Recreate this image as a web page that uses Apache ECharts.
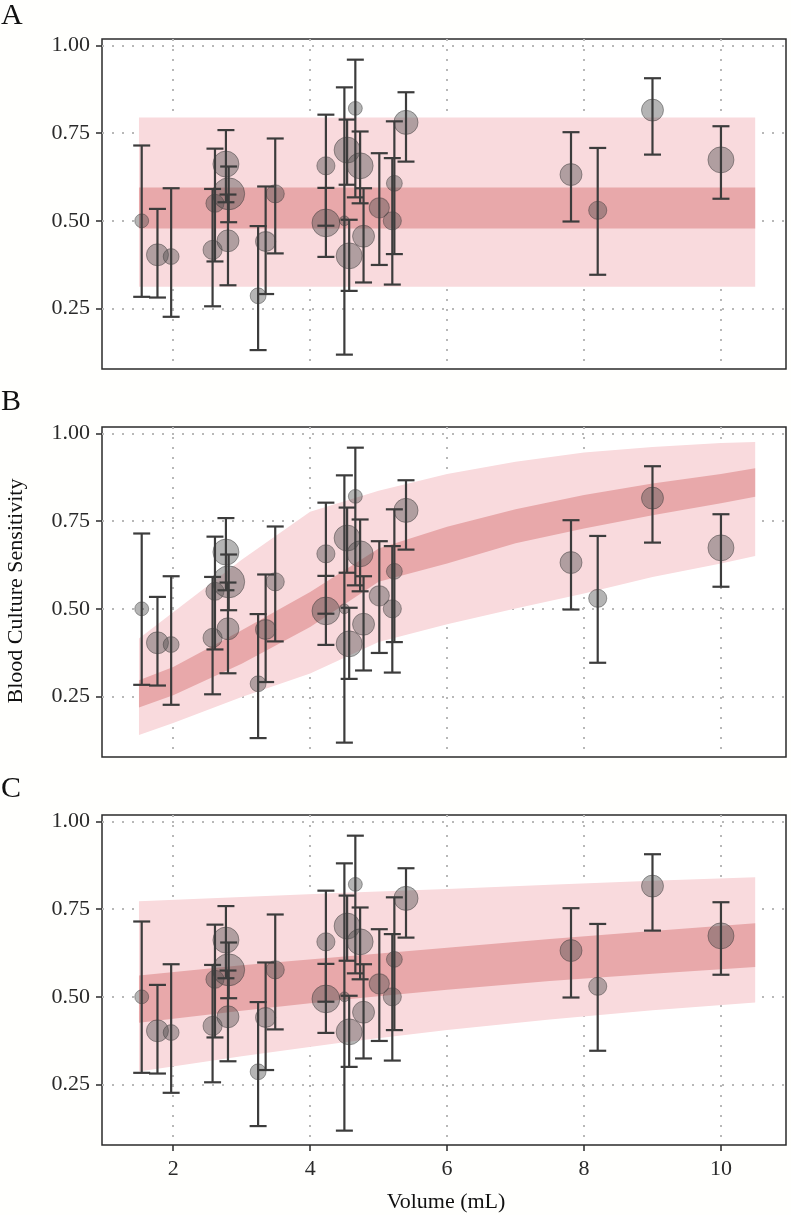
<!DOCTYPE html>
<html><head><meta charset="utf-8">
<script src="https://cdn.jsdelivr.net/npm/echarts@6/dist/echarts.min.js"></script>
<style>html,body{margin:0;padding:0;background:#fffffd;} #c{width:791px;height:1215px;}</style>
</head><body><div id="c"></div>
<script>
// ---- data ----
const volume      = [1.54,1.77,1.97,2.575,2.61,2.77,2.81,2.80,3.24,3.35,3.49,4.23,4.23,4.50,4.54,4.57,4.66,4.73,4.78,5.01,5.20,5.23,5.40,7.81,8.20,9.00,10.0];
const sensitivity = [0.500,0.403,0.398,0.417,0.550,0.662,0.577,0.443,0.286,0.441,0.577,0.657,0.494,0.500,0.702,0.400,0.821,0.657,0.456,0.537,0.500,0.607,0.781,0.632,0.530,0.816,0.674];
const ciLow       = [0.283,0.281,0.226,0.256,0.384,0.553,0.496,0.316,0.131,0.291,0.407,0.486,0.397,0.118,0.603,0.300,0.567,0.550,0.324,0.374,0.318,0.405,0.669,0.498,0.346,0.689,0.563];
const ciHigh      = [0.715,0.534,0.593,0.591,0.706,0.759,0.655,0.575,0.485,0.598,0.735,0.803,0.594,0.881,0.789,0.503,0.960,0.755,0.593,0.693,0.679,0.784,0.867,0.753,0.708,0.907,0.770];
const sampleSize  = [10,25,13,19,17,35,53,25,13,21,17,17,40,5,35,35,10,35,25,21,17,13,30,25,17,25,35];

// Panel A: constant model
const bandXA      = [1.5, 10.5];
const aOuterLow   = [0.312, 0.312];
const aOuterHigh  = [0.795, 0.795];
const aInnerLow   = [0.478, 0.478];
const aInnerHigh  = [0.595, 0.595];

// Panel B: nonlinear model
const bandXB      = [1.5, 2, 3, 4, 5, 6, 7, 8, 9, 10, 10.5];
const bOuterLow   = [0.140,0.174,0.248,0.315,0.405,0.456,0.501,0.544,0.591,0.629,0.651];
const bOuterHigh  = [0.415,0.490,0.640,0.777,0.837,0.885,0.920,0.946,0.962,0.973,0.976];
const bInnerLow   = [0.218,0.253,0.343,0.448,0.577,0.629,0.687,0.729,0.767,0.801,0.820];
const bInnerHigh  = [0.296,0.334,0.439,0.548,0.672,0.734,0.784,0.825,0.858,0.885,0.901];

// Panel C: linear model
const bandXC      = [1.5, 3, 4.5, 6, 7.5, 9, 10.5];
const cOuterLow   = [0.287,0.330,0.370,0.405,0.435,0.462,0.484];
const cOuterHigh  = [0.773,0.785,0.797,0.808,0.820,0.831,0.841];
const cInnerLow   = [0.426,0.460,0.492,0.520,0.545,0.566,0.585];
const cInnerHigh  = [0.561,0.590,0.615,0.640,0.665,0.688,0.710];

const xTicks = [2, 4, 6, 8, 10];
const yTicks = [0.25, 0.50, 0.75, 1.00];
const panelLabels = ['A', 'B', 'C'];

// ---- styles ----
const FONT = '"Liberation Serif", "DejaVu Serif", serif';
const OUTER = '#f9dadd';
const INNER = '#e8a8aa';
const BAR = '#3c3c3c';
const gridTops = [39, 427, 815];
const GRID_H = 330;

const chart = echarts.init(document.getElementById('c'), null, {renderer: 'canvas'});

function band(gi, xs, lo, hi, color, z) {
  return {
    type: 'custom', xAxisIndex: gi, yAxisIndex: gi, z: z, silent: true,
    data: [[xs[0], lo[0]]],
    renderItem: function (params, api) {
      const pts = [];
      for (let i = 0; i < xs.length; i++) pts.push(api.coord([xs[i], hi[i]]));
      for (let i = xs.length - 1; i >= 0; i--) pts.push(api.coord([xs[i], lo[i]]));
      return {type: 'polygon', shape: {points: pts}, style: {fill: color}};
    }
  };
}

const pointData = volume.map((v, i) => [v, sensitivity[i], sampleSize[i]]);
const barData = volume.map((v, i) => [v, ciLow[i], ciHigh[i]]);

function points(gi) {
  return {
    type: 'scatter', xAxisIndex: gi, yAxisIndex: gi, z: 5, silent: true,
    data: pointData,
    symbolSize: d => 4.4 * Math.sqrt(d[2]),
    itemStyle: {color: 'rgba(75,75,75,0.52)', borderColor: 'rgba(50,50,50,0.55)', borderWidth: 1}
  };
}

function bars(gi) {
  return {
    type: 'custom', xAxisIndex: gi, yAxisIndex: gi, z: 6, silent: true,
    data: barData, encode: {x: 0, y: [1, 2]},
    renderItem: function (params, api) {
      const x = api.value(0);
      const p1 = api.coord([x, api.value(1)]);
      const p2 = api.coord([x, api.value(2)]);
      const hw = 8.5;
      const st = {stroke: BAR, lineWidth: 2.2};
      return {type: 'group', children: [
        {type: 'line', shape: {x1: p1[0], y1: p1[1], x2: p2[0], y2: p2[1]}, style: st},
        {type: 'line', shape: {x1: p2[0] - hw, y1: p2[1], x2: p2[0] + hw, y2: p2[1]}, style: st},
        {type: 'line', shape: {x1: p1[0] - hw, y1: p1[1], x2: p1[0] + hw, y2: p1[1]}, style: st}
      ]};
    }
  };
}

const grids = [], xAxes = [], yAxes = [], series = [];
const gridLine = {show: true, lineStyle: {color: '#b8b8b8', width: 2, type: [2, 8]}};
for (let g = 0; g < 3; g++) {
  grids.push({left: 102, right: 5, top: gridTops[g], height: GRID_H, show: true,
    borderColor: '#2b2b2b', borderWidth: 1.5, backgroundColor: '#ffffff', containLabel: false});
  xAxes.push({gridIndex: g, type: 'value', min: 0.96, max: 10.95,
    axisLine: {show: false},
    axisTick: {show: true, length: g === 2 ? 6 : 0, inside: false, customValues: xTicks, lineStyle: {color: '#2b2b2b', width: 1.5}},
    axisLabel: {show: g === 2, customValues: xTicks, fontFamily: FONT, fontSize: 22, color: '#2a2a2a', margin: 13},
    splitLine: gridLine});
  yAxes.push({gridIndex: g, type: 'value', min: 0.077, max: 1.019,
    axisLine: {show: false},
    axisTick: {show: true, length: 6, customValues: yTicks, lineStyle: {color: '#2b2b2b', width: 1.5}},
    axisLabel: {show: true, customValues: yTicks, formatter: v => v.toFixed(2), fontFamily: FONT, fontSize: 22, color: '#2a2a2a', margin: 12},
    splitLine: gridLine});
}

series.push(band(0, bandXA, aOuterLow, aOuterHigh, OUTER, 1));
series.push(band(0, bandXA, aInnerLow, aInnerHigh, INNER, 2));
series.push(band(1, bandXB, bOuterLow, bOuterHigh, OUTER, 1));
series.push(band(1, bandXB, bInnerLow, bInnerHigh, INNER, 2));
series.push(band(2, bandXC, cOuterLow, cOuterHigh, OUTER, 1));
series.push(band(2, bandXC, cInnerLow, cInnerHigh, INNER, 2));
for (let g = 0; g < 3; g++) { series.push(points(g)); series.push(bars(g)); }

const graphics = [];
const labelY = [18, 404, 791];
for (let g = 0; g < 3; g++) {
  graphics.push({type: 'text', left: 1, top: labelY[g] - 17, style: {text: panelLabels[g], font: '30px ' + FONT, fill: '#111'}});
}
graphics.push({type: 'text', x: 446, y: 1202, style: {text: 'Volume (mL)', font: '22px ' + FONT, fill: '#111', align: 'center', verticalAlign: 'middle'}});
graphics.push({type: 'text', x: 16, y: 591, rotation: Math.PI / 2, style: {text: 'Blood Culture Sensitivity', font: '22px ' + FONT, fill: '#111', align: 'center', verticalAlign: 'middle'}});

chart.setOption({
  animation: false,
  backgroundColor: '#fffffd',
  grid: grids, xAxis: xAxes, yAxis: yAxes, series: series, graphic: graphics
});
</script></body></html>
